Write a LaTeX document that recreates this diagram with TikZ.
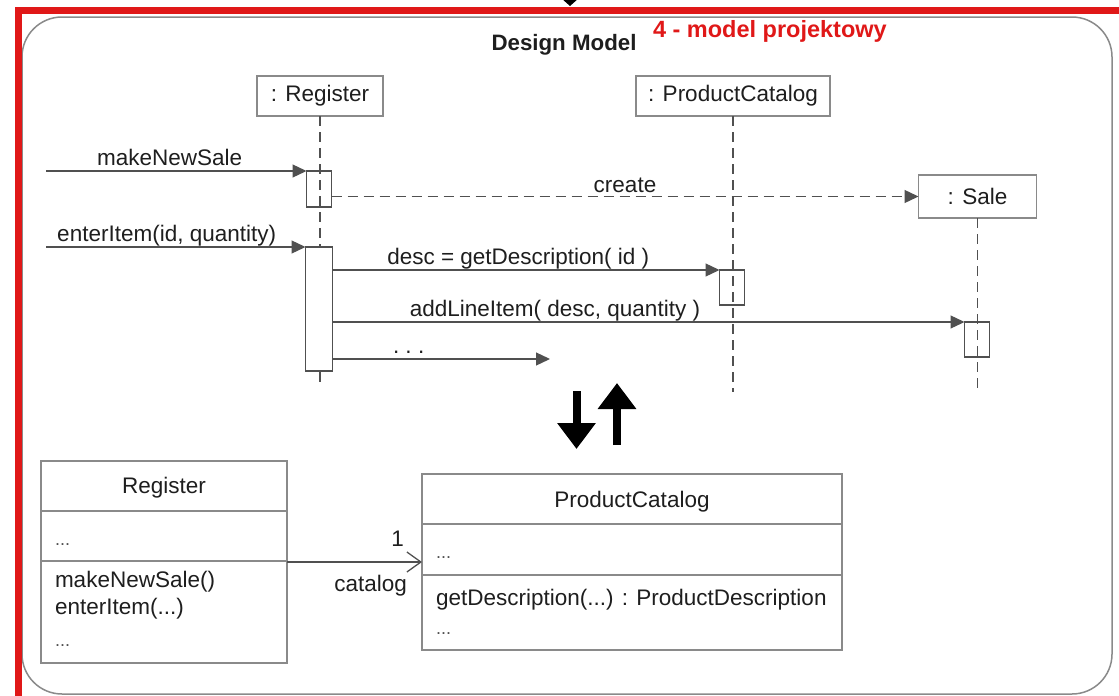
\documentclass[tikz,border=0pt]{standalone}
\usepackage{fontspec}
\setmainfont{Liberation Sans}
\usetikzlibrary{arrows.meta,positioning}

\definecolor{framered}{HTML}{E01818}
\definecolor{boxgray}{HTML}{8A8A8A}
\definecolor{linegray}{HTML}{505050}
\definecolor{textgray}{HTML}{1E1E1E}

\begin{document}
\begin{tikzpicture}[x=1pt, y=-1pt,
    every node/.append style={font=\fontsize{22.5}{27}\selectfont, text=textgray, inner sep=0pt, outer sep=0pt},
    object/.style={draw=boxgray, line width=1.2pt, fill=white, minimum height=40pt},
    activation/.style={draw=linegray, line width=1.2pt, minimum width=25pt},
    lifeline/.style={draw=linegray, line width=1.4pt, dash pattern=on 10pt off 6pt},
    message/.style={draw=linegray, line width=1.3pt, -{Triangle[length=14pt,width=13pt]}},
    msglabel/.style={anchor=base, yshift=6pt},
    classbox/.style={draw=boxgray, line width=1.2pt},
    member/.style={anchor=base west},
    elided/.style={anchor=base west, font=\fontsize{18}{21}\selectfont, text=linegray},
    bigarrow/.style={line width=8pt, -{Triangle[length=26pt,width=37pt]}}]

  \useasboundingbox (0,0) rectangle (1119,696);

  % frame
  \draw[boxgray, line width=1.5pt, rounded corners=40pt] (22,17) rectangle (1112,694);
  \draw[framered, line width=7pt] (18.5,705) -- (18.5,10) -- (1130,10);
  \fill (561,-2) -- (579,-2) -- (570,6) -- cycle;

  \node (title) [anchor=base, font=\bfseries\fontsize{22.3}{26}\selectfont] at (564,50) {Design Model};
  \node (note) [anchor=base west, text=framered, font=\bfseries\fontsize{23.5}{27}\selectfont] at (653,37) {4 - model projektowy};

  % sequence diagram
  \node (Register) [object, minimum width=126pt] at (320,96) {: Register};
  \node (Catalog) [object, minimum width=194pt] at (733,96) {: ProductCatalog};
  \node (Sale) [object, minimum width=118pt, minimum height=43pt] at (977.5,196.5) {: Sale};

  \coordinate (regEnd) at (320,387);
  \coordinate (catEnd) at (733,392);
  \coordinate (saleEnd) at (977.5,390);
  \draw[lifeline] (Register.south) -- (regEnd);
  \draw[lifeline] (Catalog.south) -- (catEnd);
  \draw[lifeline] (Sale.south) -- (saleEnd);

  \node (act1) [activation, minimum height=36pt] at (319,189) {};
  \node (act2) [activation, fill=white, minimum height=124pt, minimum width=27pt] at (319,309) {};
  \node (act3) [activation, minimum height=35pt] at (732,287.5) {};
  \node (act4) [activation, minimum height=35pt] at (977,339.5) {};

  \coordinate (newSaleIn) at (46,171);
  \coordinate (enterIn) at (46,247);
  \coordinate (moreEnd) at (550,359);

  \draw[message] (newSaleIn) -- node[msglabel, pos=0.475] {makeNewSale} (act1.north west);
  \draw[message, dash pattern=on 10pt off 6pt] (act1.east |- Sale.west) -- node[msglabel, pos=0.5, yshift=-2pt] {create} (Sale.west);
  \draw[message] (enterIn) -- node[msglabel, pos=0.465] {enterItem(id, quantity)} (act2.north west);
  \draw[message] (act2.east |- act3.north) -- node[msglabel, pos=0.48] {desc = getDescription( id )} (act3.north west);
  \draw[message] (act2.east |- act4.north) -- node[msglabel, pos=0.352] {addLineItem( desc, quantity )} (act4.north west);
  \draw[message] (act2.east |- moreEnd) -- node[msglabel, pos=0.35] {.\ .\ .} (moreEnd);

  % refinement arrows
  \coordinate (downTop) at (576.5,391);
  \coordinate (downTip) at (576.5,449);
  \coordinate (upBottom) at (617,445);
  \coordinate (upTip) at (617,383);
  \draw[bigarrow] (downTop) -- (downTip);
  \draw[bigarrow] (upBottom) -- (upTip);

  % class diagram
  \node (RegisterCls) [classbox, minimum width=246pt, minimum height=202pt] at (164,562) {};
  \draw[classbox] (RegisterCls.west |- 0,511) -- (RegisterCls.east |- 0,511);
  \draw[classbox] (RegisterCls.west |- 0,561) -- (RegisterCls.east |- 0,561);
  \node (regName) [anchor=base] at (164,493) {Register};
  \node (regAttr) [elided] at (55,545) {...};
  \node (regOp1) [member] at (55,587) {makeNewSale()};
  \node (regOp2) [member] at (55,614) {enterItem(...)};
  \node (regOp3) [elided] at (55,646) {...};

  \node (CatalogCls) [classbox, minimum width=420pt, minimum height=176pt] at (632,562) {};
  \draw[classbox] (CatalogCls.west |- 0,524) -- (CatalogCls.east |- 0,524);
  \draw[classbox] (CatalogCls.west |- 0,575) -- (CatalogCls.east |- 0,575);
  \node (catName) [anchor=base] at (632,507) {ProductCatalog};
  \node (catAttr) [elided] at (436,558) {...};
  \node (catOp1) [member] at (436,605) {getDescription(...) : ProductDescription};
  \node (catOp2) [elided] at (436,634) {...};

  \draw[linegray, line width=1.3pt, -{Straight Barb[length=14pt,width=20pt]}] (RegisterCls.east) -- (CatalogCls.west)
    node[pos=0.82, anchor=base, yshift=16pt] {1}
    node[pos=0.62, anchor=base, yshift=-29pt] {catalog};
\end{tikzpicture}
\end{document}
